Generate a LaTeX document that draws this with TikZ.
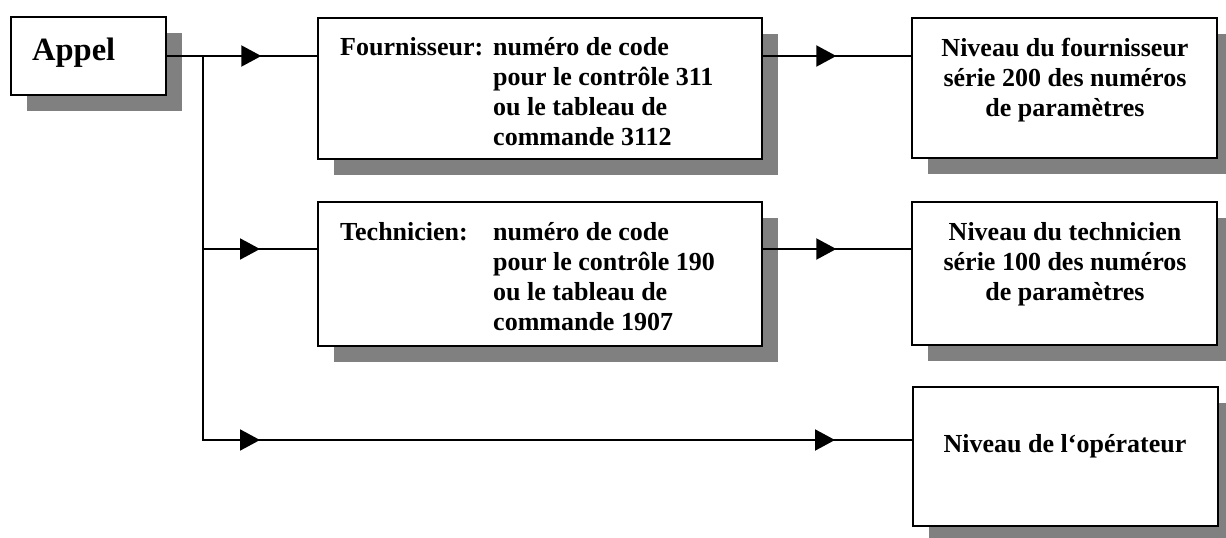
\documentclass[tikz,border=0pt]{standalone}
\usepackage{fontspec}
\setmainfont{Liberation Serif}
\usetikzlibrary{arrows.meta,shadows,decorations.markings}
\definecolor{shadowgray}{RGB}{128,128,128}
\tikzset{
  box/.style={draw, line width=2.6pt, fill=white, rectangle, inner sep=0pt,
    drop shadow={shadow xshift=16pt, shadow yshift=-16pt, fill=shadowgray, opacity=1}},
  conn/.style={line width=2pt},
  txt/.style={inner sep=0pt, font=\fontsize{26}{30}\selectfont\bfseries},
  bigtxt/.style={inner sep=0pt, font=\fontsize{32.5}{36}\selectfont\bfseries},
  ahead/.style={postaction={decorate, decoration={markings,
    mark=at position #1 with {\arrow{Triangle[length=20pt,width=21pt]}}}}},
}
\begin{document}
\begin{tikzpicture}[x=1pt,y=-1pt]
\useasboundingbox (0,0) rectangle (1226,538);
% boxes
\node[box, minimum width=155pt, minimum height=78pt] (appel) at (88.5,56) {};
\node[box, minimum width=444pt, minimum height=141pt] (fourn) at (540,88.5) {};
\node[box, minimum width=305pt, minimum height=140pt] (nivF) at (1064.5,88) {};
\node[box, minimum width=444pt, minimum height=144pt] (tech) at (540,274) {};
\node[box, minimum width=305pt, minimum height=143pt] (nivT) at (1064.5,273.5) {};
\node[box, minimum width=305pt, minimum height=139pt] (op) at (1065.5,456.5) {};
% texts
\node[bigtxt, anchor=base west] (appelt) at (32,60) {Appel};
\node[txt, anchor=base west] (fournl) at (340,55) {Fournisseur:};
\node[txt, anchor=base west] (fournt) at (493,55) {\begin{tabular}[t]{@{}l@{}}numéro de code\\pour le contrôle 311\\ou le tableau de\\commande 3112\end{tabular}};
\node[txt, anchor=base west] (techl) at (340,240) {Technicien:};
\node[txt, anchor=base west] (techt) at (493,240) {\begin{tabular}[t]{@{}l@{}}numéro de code\\pour le contrôle 190\\ou le tableau de\\commande 1907\end{tabular}};
\node[txt, anchor=base] (nivFt) at (1065,56) {\begin{tabular}[t]{@{}c@{}}Niveau du fournisseur\\série 200 des numéros\\de paramètres\end{tabular}};
\node[txt, anchor=base] (nivTt) at (1065,240) {\begin{tabular}[t]{@{}c@{}}Niveau du technicien\\série 100 des numéros\\de paramètres\end{tabular}};
\node[txt, anchor=base] (opt) at (1065,452) {Niveau de l‘opérateur};
% connectors
\coordinate (split) at (203,56);
\coordinate (r2) at (0,249);
\coordinate (r3) at (0,440);
\draw[conn, ahead=94pt] (appel.east) -- (appel.east -| fourn.west);
\draw[conn, ahead=73pt] (appel.east -| fourn.east) -- (appel.east -| nivF.west);
\draw[conn, ahead=57pt] (split |- r2) -- (r2 -| tech.west);
\draw[conn, ahead=73pt] (r2 -| tech.east) -- (r2 -| nivT.west);
\draw[conn, ahead=441pt, ahead=1016pt] (split) |- (r3 -| op.west);
\end{tikzpicture}
\end{document}
